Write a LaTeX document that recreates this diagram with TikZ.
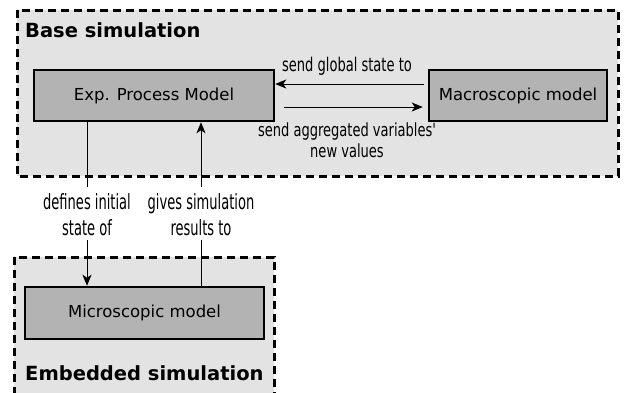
\documentclass[tikz,border=0pt]{standalone}
\usepackage{fontspec}
\setmainfont{DejaVu Sans}
\newfontfamily\condfont{DejaVu Sans Condensed}
\usetikzlibrary{arrows.meta}
\definecolor{contfill}{HTML}{E3E3E3}
\definecolor{boxfill}{HTML}{B3B3B3}
\newcommand{\tallstack}[3]{\scalebox{1}[#1]{\begin{tabular}[t]{@{}c@{}}#2\\#3\end{tabular}}}
\newcommand{\tallline}[2]{\scalebox{1}[#1]{#2}}
\tikzset{
  container/.style={draw=black, fill=contfill, line width=3pt, dash pattern=on 8pt off 5pt},
  modelbox/.style={draw=black, fill=boxfill, line width=2.5pt, inner sep=0pt, font=\fontsize{16.5}{19}\selectfont},
  conn/.style={line width=1pt, -{Stealth[length=11pt,width=9pt,inset=3pt]}},
  plainline/.style={line width=1pt},
  hlabel/.style={font=\condfont\fontsize{14.5}{16.8}\selectfont, inner sep=0pt, anchor=base},
  vlabel/.style={font=\condfont\fontsize{14.5}{18}\selectfont, inner sep=0pt, anchor=base},
  title/.style={font=\bfseries\fontsize{19.5}{22}\selectfont, anchor=west, inner sep=0pt}
}
\begin{document}
\begin{tikzpicture}[x=1pt,y=-1pt]
\useasboundingbox (0,0) rectangle (628,392);
% containers
\path[container] (17,10) rectangle (618,176);
\path[container] (14,257) rectangle (274,400);
\node[title] (basetitle) at (25,30) {Base simulation};
\node[title] (embtitle) at (25,373) {Embedded simulation};
% model boxes
\node[modelbox, minimum width=240pt, minimum height=51pt] (exp) at (154,95.5) {Exp. Process Model};
\node[modelbox, minimum width=178pt, minimum height=51pt] (macro) at (518,95.5) {Macroscopic model};
\node[modelbox, minimum width=239pt, minimum height=52pt] (micro) at (144.5,313) {Microscopic model};
% horizontal connectors
\draw[conn] ([xshift=-4pt,yshift=11.5pt]macro.west) -- ([yshift=11.5pt]exp.east);
\draw[conn] ([xshift=9pt,yshift=-11.5pt]exp.east) -- ([xshift=-5pt,yshift=-11.5pt]macro.west);
\node[hlabel] (lab1) at (347,71) {\tallline{1.3}{send global state to}};
\node[hlabel] (lab2) at (347,136) {\tallstack{1.25}{send aggregated variables'}{new values}};
% vertical connectors
\node[vlabel] (lab3) at (87,209.5) {\tallstack{1.45}{defines initial}{state of}};
\node[vlabel] (lab4) at (201,209.5) {\tallstack{1.45}{gives simulation}{results to}};
\draw[plainline] (exp.south -| lab3) -- ([yshift=4pt]lab3.north);
\draw[conn] ([yshift=3.4pt]lab3.south) -- (micro.north -| lab3);
\draw[plainline] (micro.north -| lab4) -- ([yshift=3.4pt]lab4.south);
\draw[conn] ([yshift=4pt]lab4.north) -- (exp.south -| lab4);
\end{tikzpicture}
\end{document}
